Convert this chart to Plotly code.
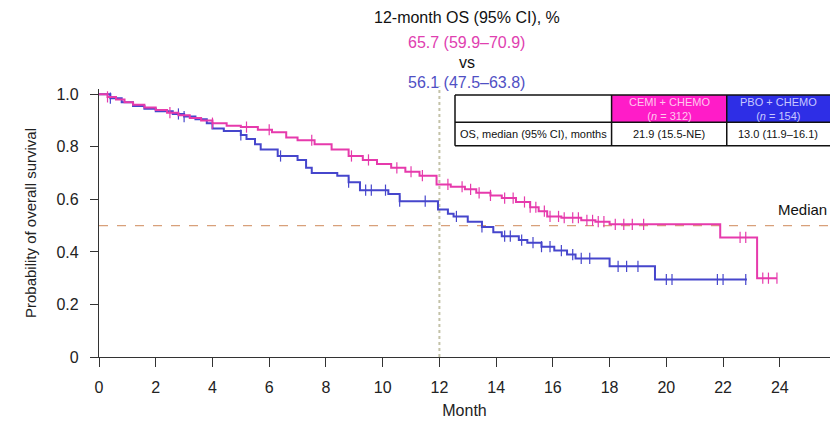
import plotly.graph_objects as go

# Kaplan-Meier step data (event times in months, survival after each event)
cemi_times = [0, 0.3, 0.6, 0.9, 1.2, 1.6, 2.0, 2.4, 2.8, 3.2, 3.6, 4.0, 4.5, 5.0, 5.6, 6.1, 6.6,
              7.0, 7.6, 8.2, 8.8, 9.3, 9.8, 10.3, 10.8, 11.3, 11.9, 12.4, 12.9, 13.3, 13.8,
              14.2, 14.7, 15.2, 15.5, 15.8, 16.3, 17.0, 17.5, 18.0, 21.9, 23.2, 23.9]
cemi_surv = [1.0, 0.99, 0.98, 0.97, 0.96, 0.95, 0.94, 0.93, 0.92, 0.91, 0.90, 0.89, 0.88, 0.875,
             0.865, 0.855, 0.835, 0.825, 0.81, 0.79, 0.765, 0.75, 0.735, 0.72, 0.705, 0.69,
             0.657, 0.648, 0.638, 0.625, 0.615, 0.605, 0.59, 0.57, 0.555, 0.535, 0.53, 0.52,
             0.515, 0.505, 0.455, 0.30, 0.30]
cemi_censor = [0.3, 2.5, 4.0, 5.2, 6.0, 7.5, 8.9, 9.5, 10.5, 11.0, 11.4, 12.3, 12.8, 13.1, 13.4,
               13.8, 14.3, 14.6, 15.0, 15.2, 15.4, 15.7, 15.9, 16.2, 16.4, 16.7, 16.9, 17.2,
               17.4, 17.6, 17.8, 18.2, 18.5, 18.8, 19.2, 22.6, 22.8, 23.4, 23.6, 23.9]

pbo_times = [0, 0.4, 0.8, 1.2, 1.6, 2.0, 2.6, 3.0, 3.4, 3.8, 4.0, 4.4, 5.0, 5.2, 5.5, 5.7, 6.3,
             7.0, 7.3, 7.5, 8.4, 8.8, 9.2, 10.2, 10.6, 11.95, 12.3, 12.5, 13.0, 13.5, 13.9,
             14.2, 14.8, 15.1, 15.6, 16.05, 16.5, 16.8, 18.0, 19.6, 22.84]
pbo_surv = [1.0, 0.985, 0.97, 0.955, 0.945, 0.935, 0.925, 0.915, 0.905, 0.89, 0.87, 0.86, 0.845,
            0.83, 0.81, 0.79, 0.765, 0.75, 0.72, 0.70, 0.69, 0.665, 0.635, 0.62, 0.593, 0.561,
            0.545, 0.535, 0.515, 0.495, 0.475, 0.46, 0.445, 0.435, 0.42, 0.405, 0.39, 0.375,
            0.345, 0.295, 0.295]
pbo_censor = [0.4, 2.8, 3.0, 5.0, 6.4, 8.8, 9.4, 9.6, 10.1, 10.6, 11.5, 12.6, 13.5, 14.3, 14.5,
              14.9, 15.3, 15.6, 15.9, 16.3, 16.7, 17.0, 17.3, 18.3, 18.6, 19.0, 20.0, 20.2,
              21.8, 22.0, 22.8]

month_ticks = list(range(0, 25, 2))
prob_ticks = [0, 0.2, 0.4, 0.6, 0.8, 1.0]
prob_labels = ["0", "0.2", "0.4", "0.6", "0.8", "1.0"]

MAGENTA = "#e63aac"
BLUE = "#4646cc"
FONT = "Liberation Sans, Arial"


def surv_at(times, surv, t):
    val = surv[0]
    for ti, si in zip(times, surv):
        if ti <= t:
            val = si
    return val


fig = go.Figure()

for times, surv, cens, col in [(pbo_times, pbo_surv, pbo_censor, BLUE),
                               (cemi_times, cemi_surv, cemi_censor, MAGENTA)]:
    fig.add_trace(go.Scatter(x=times, y=surv, mode="lines", line=dict(color=col, width=2, shape="hv"),
                             showlegend=False, hoverinfo="skip"))
    fig.add_trace(go.Scatter(x=cens, y=[surv_at(times, surv, c) for c in cens], mode="markers",
                             marker=dict(symbol="line-ns", size=8, line=dict(color=col, width=1.2)),
                             showlegend=False, hoverinfo="skip"))

# median reference line and 12-month marker
fig.add_shape(type="line", xref="x", yref="y", x0=0, x1=26, y0=0.5, y1=0.5,
              line=dict(color="#d8a07a", width=1.2, dash="dash"), layer="below")
fig.add_shape(type="line", xref="x", yref="paper", x0=12, x1=12, y0=0, y1=1.01,
              line=dict(color="#c4c2a8", width=2, dash="dot"), layer="below")

# summary table
tx0, tx1, tx2, tx3 = 12.55, 18.07, 22.13, 26.5
ty0, ty1, ty2 = 0.997, 0.893, 0.804
fig.add_shape(type="rect", x0=tx1, x1=tx2, y0=ty1, y1=ty0, fillcolor="#ff1cc8", line=dict(width=0))
fig.add_shape(type="rect", x0=tx2, x1=tx3, y0=ty1, y1=ty0, fillcolor="#2e2ee6", line=dict(width=0))
for y in [ty0, ty1, ty2]:
    fig.add_shape(type="line", x0=tx0, x1=tx3, y0=y, y1=y, line=dict(color="#111", width=1.5))
for x in [tx0, tx1, tx2]:
    fig.add_shape(type="line", x0=x, x1=x, y0=ty2, y1=ty0, line=dict(color="#111", width=1.5))

tfont = dict(family=FONT, size=11)
fig.add_annotation(x=(tx1 + tx2) / 2, y=(ty0 + ty1) / 2, text="CEMI + CHEMO<br>(<i>n</i> = 312)",
                   showarrow=False, font=dict(tfont, color="#ffc8ee"), align="center")
fig.add_annotation(x=(tx2 + 25.77) / 2, y=(ty0 + ty1) / 2, text="PBO + CHEMO<br>(<i>n</i> = 154)",
                   showarrow=False, font=dict(tfont, color="#c8c8ff"), align="center")
fig.add_annotation(x=tx0 + 0.12, y=(ty1 + ty2) / 2, text="OS, median (95% CI), months",
                   showarrow=False, xanchor="left", font=dict(tfont, color="#111"))
fig.add_annotation(x=(tx1 + tx2) / 2, y=(ty1 + ty2) / 2, text="21.9 (15.5-NE)",
                   showarrow=False, font=dict(tfont, color="#111"))
fig.add_annotation(x=(tx2 + 25.77) / 2, y=(ty1 + ty2) / 2, text="13.0 (11.9–16.1)",
                   showarrow=False, font=dict(tfont, color="#111"))

fig.add_annotation(x=25.74, y=0.56, text="Median", showarrow=False, xanchor="right",
                   font=dict(family=FONT, size=15, color="#111"))

# 12-month OS header
hfont = dict(family=FONT, size=16)
for ypx, txt, col in [(18, "12-month OS (95% CI), %", "#111"),
                      (42, "65.7 (59.9–70.9)", "#e040b0"),
                      (62, "vs", "#111"),
                      (82, "56.1 (47.5–63.8)", "#5050c4")]:
    fig.add_annotation(xref="paper", yref="paper", x=(467 - 99.3) / 730.7, y=(357 - ypx) / 268,
                       xanchor="center", yanchor="middle",
                       text=txt, showarrow=False, font=dict(hfont, color=col))

fig.update_layout(
    width=830, height=424,
    margin=dict(l=99, r=0, t=89, b=67),
    plot_bgcolor="white", paper_bgcolor="white",
    font=dict(family=FONT, size=16, color="#222"),
    xaxis=dict(range=[0, 25.77], tickvals=month_ticks, showgrid=False, zeroline=False,
               showline=True, linecolor="#333", linewidth=1.2, ticks="outside", ticklen=9,
               tickcolor="#333", ticklabelstandoff=7,
               title=dict(text="Month", standoff=9, font=dict(size=16))),
    yaxis=dict(range=[0, 1.02], tickvals=prob_ticks, ticktext=prob_labels, showgrid=False,
               zeroline=False, showline=True, linecolor="#333", linewidth=1.2, ticks="outside",
               ticklen=8, tickcolor="#333", ticklabelstandoff=8,
               title=dict(text="Probability of overall survival", standoff=16, font=dict(size=15))),
)

fig.write_html("out.html")
